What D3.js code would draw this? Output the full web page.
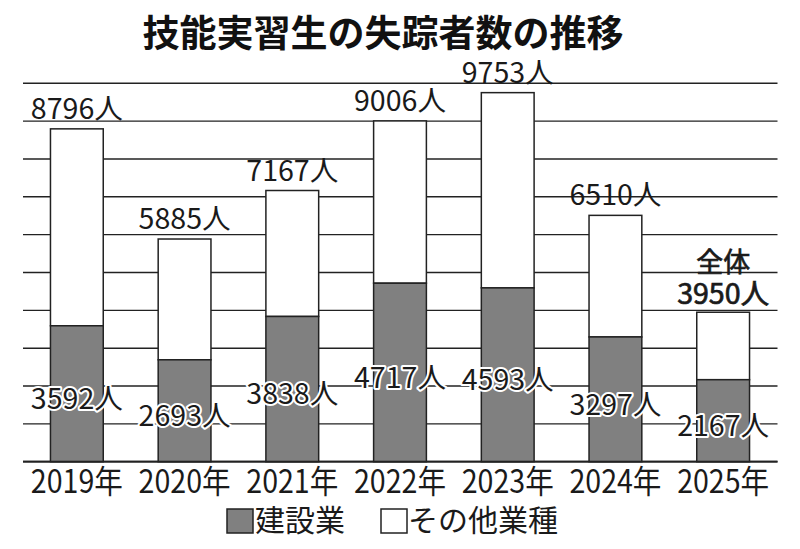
<!DOCTYPE html>
<html><head><meta charset="utf-8">
<script src="https://cdn.jsdelivr.net/npm/d3@7"></script>
<style>
html,body{margin:0;padding:0;background:#fff;}
svg{display:block;font-family:"Noto Sans CJK JP","Noto Sans",sans-serif;}
</style></head>
<body><svg id="c" width="800" height="549"></svg>
<script>
const title = "技能実習生の失踪者数の推移";
const years = ["2019年","2020年","2021年","2022年","2023年","2024年","2025年"];
const construction = [3592, 2693, 3838, 4717, 4593, 3297, 2167];
const totals = [8796, 5885, 7167, 9006, 9753, 6510, 3950];
const yTicks = [0,1000,2000,3000,4000,5000,6000,7000,8000,9000,10000];
const legendLabels = ["建設業","その他業種"];
const unit = "人";
const totalPrefix = "全体";

const svg = d3.select("#c");
const x = d3.scaleBand().domain(years).range([23, 777]).paddingInner(0.51).paddingOuter(0.255);
const y = d3.scaleLinear().domain([0, 10000]).range([461.7, 83.3]);
const gray = "#808080", ink = "#1a1a1a";

svg.append("text").attr("x", 383).attr("y", 47).attr("text-anchor","middle")
  .attr("font-size", 37).attr("font-weight", 700).attr("fill", "#111").text(title);

// gridlines
svg.append("g").selectAll("line").data(yTicks).join("line")
  .attr("x1", 23).attr("x2", 777.5)
  .attr("y1", d => y(d)).attr("y2", d => y(d))
  .attr("stroke", "#222").attr("stroke-width", d => d === 0 ? 1.8 : 1.4);

// bars
const g = svg.append("g");
years.forEach((yr, i) => {
  g.append("rect").attr("x", x(yr)).attr("width", x.bandwidth())
    .attr("y", y(totals[i])).attr("height", y(construction[i]) - y(totals[i]))
    .attr("fill", "#fff").attr("stroke", "#222").attr("stroke-width", 1.5);
  g.append("rect").attr("x", x(yr)).attr("width", x.bandwidth())
    .attr("y", y(construction[i])).attr("height", y(0) - y(construction[i]))
    .attr("fill", gray).attr("stroke", "#222").attr("stroke-width", 1.5);
});
svg.append("line").attr("x1",23).attr("x2",777.5).attr("y1",y(0)).attr("y2",y(0))
  .attr("stroke","#222").attr("stroke-width",1.8);

// total labels
years.forEach((yr, i) => {
  const cx = x(yr) + x.bandwidth()/2;
  const last = i === years.length - 1;
  svg.append("text").attr("x", cx).attr("y", y(totals[i]) - (last ? 8 : 10))
    .attr("text-anchor","middle").attr("font-size", 28)
    .attr("font-weight", 400).attr("fill", ink)
    .attr("stroke", last ? ink : "none").attr("stroke-width", last ? 0.7 : 0)
    .attr("textLength", 92).attr("lengthAdjust","spacingAndGlyphs")
    .text(totals[i] + unit);
  if (last) {
    svg.append("text").attr("x", cx).attr("y", y(totals[i]) - 40)
      .attr("text-anchor","middle").attr("font-size", 27).attr("font-weight", 400)
      .attr("stroke", ink).attr("stroke-width", 0.7)
      .attr("fill", ink).text(totalPrefix);
  }
});

// construction labels with halo
years.forEach((yr, i) => {
  const cx = x(yr) + x.bandwidth()/2;
  const cy = (y(construction[i]) + y(0)) / 2 + 5;
  svg.append("text").attr("x", cx).attr("y", cy + 0.37*28)
    .attr("text-anchor","middle").attr("font-size", 28).attr("font-weight", 400)
    .attr("fill", ink).attr("stroke", "#fff").attr("stroke-width", 4)
    .attr("stroke-linejoin","round").attr("paint-order","stroke")
    .attr("textLength", 92).attr("lengthAdjust","spacingAndGlyphs")
    .text(construction[i] + unit);
});

// x axis labels
svg.append("g").selectAll("text").data(years).join("text")
  .attr("x", d => x(d) + x.bandwidth()/2).attr("y", 493.3)
  .attr("text-anchor","middle").attr("font-size", 32).attr("font-weight", 400)
  .attr("fill", ink).attr("textLength", 92).attr("lengthAdjust","spacingAndGlyphs")
  .text(d => d);

// legend
const lg = svg.append("g");
lg.append("rect").attr("x", 227).attr("y", 509).attr("width", 26).attr("height", 24)
  .attr("fill", gray).attr("stroke", "#222").attr("stroke-width", 1.5);
lg.append("text").attr("x", 255).attr("y", 531).attr("font-size", 30).attr("font-weight", 400)
  .attr("fill", ink).attr("textLength", 90).attr("lengthAdjust","spacingAndGlyphs").text(legendLabels[0]);
lg.append("rect").attr("x", 381).attr("y", 509).attr("width", 26).attr("height", 24)
  .attr("fill", "#fff").attr("stroke", "#222").attr("stroke-width", 1.5);
lg.append("text").attr("x", 408).attr("y", 531).attr("font-size", 30).attr("font-weight", 400)
  .attr("fill", ink).attr("textLength", 150).attr("lengthAdjust","spacingAndGlyphs").text(legendLabels[1]);
</script></body></html>
